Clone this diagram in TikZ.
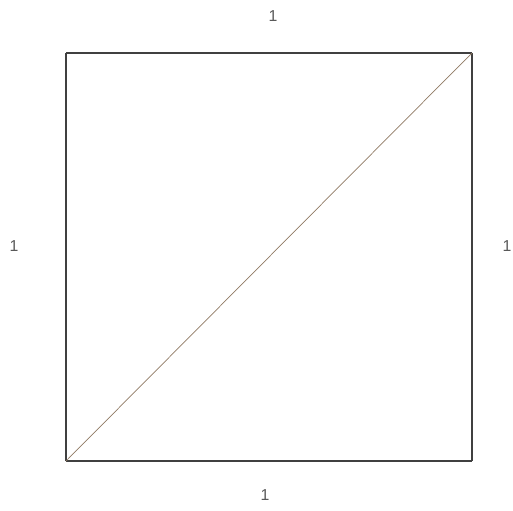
\documentclass[tikz,border=0pt]{standalone}
\usepackage{fontspec}
\setmainfont{Liberation Sans}
\begin{document}
\begin{tikzpicture}[x=0.02cm,y=-0.02cm,
  lbl/.style={text=black!65,font=\small,inner sep=0pt},
  side/.style={draw=black!75,line width=0.6pt},
  diag/.style={draw=brown!50!black!70,line width=0.4pt}]
\useasboundingbox (0,0) rectangle (513,510);
\path coordinate (BL) at (66,461)
coordinate (BR) at (472,461)
coordinate (TR) at (472,53)
coordinate (TL) at (66,53)
node[lbl] (top) at (273,16) {1}
node[lbl] (left) at (14,246) {1}
node[lbl] (right) at (507,246) {1}
node[lbl] (bottom) at (265,495) {1}
;
\draw[side]   (TL) -- (TR);
\draw[side]   (TR) -- (BR);
\draw[side]   (BR) -- (BL);
\draw[side]   (BL) -- (TL);
\draw[diag]   (BL) -- (TR);
\end{tikzpicture}
\end{document}
